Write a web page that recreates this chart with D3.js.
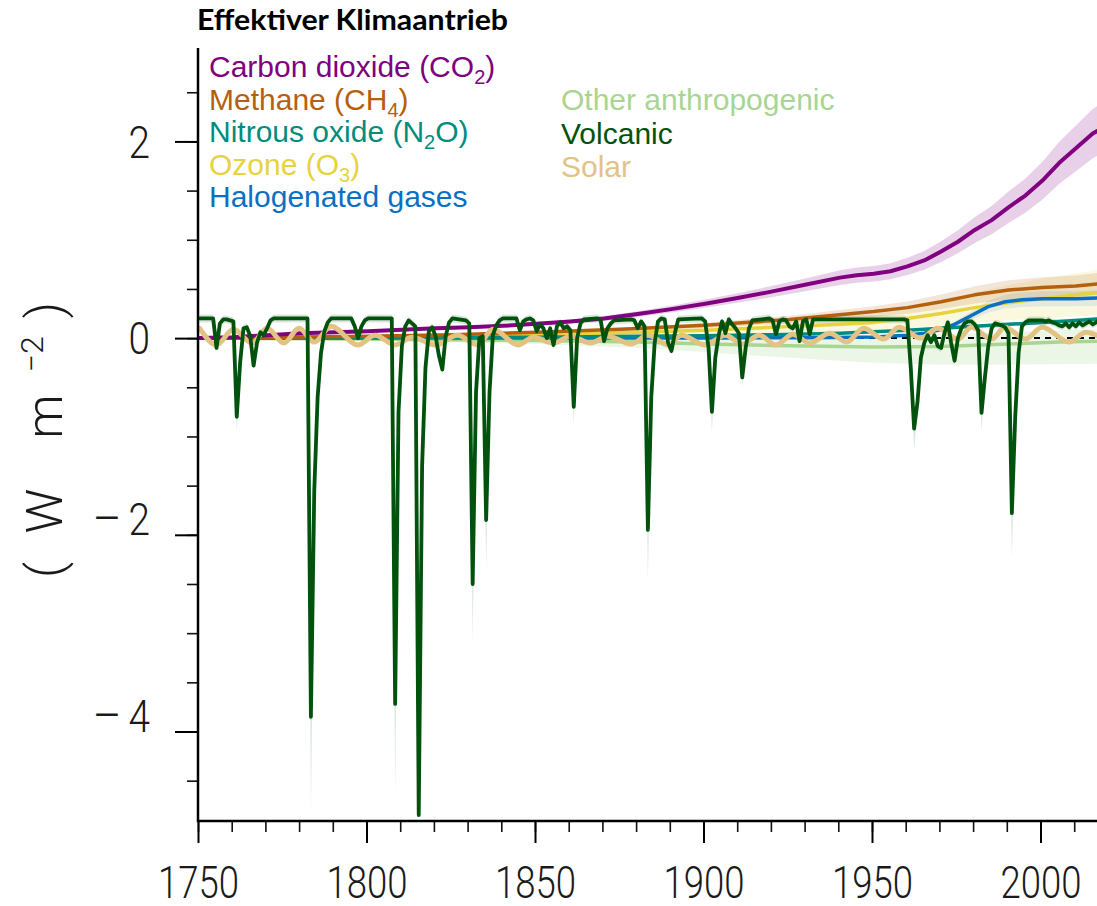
<!DOCTYPE html>
<html>
<head>
<meta charset="utf-8">
<script src="https://cdn.jsdelivr.net/npm/d3@7"></script>
<style>
  html, body { margin: 0; padding: 0; background: #fff; }
  svg { display: block; }
</style>
</head>
<body>
<svg id="chart" width="1097" height="906"></svg>
<script>
// Effective radiative forcing by driver, 1750-2019 (W m-2)
// Rows: [year, central value, lower bound, upper bound]

const co2 = [
  [1750,0,0,0],[1760,0.01,0.009,0.011],[1770,0.03,0.026,0.034],[1780,0.05,0.044,0.056],
  [1790,0.06,0.053,0.067],[1800,0.07,0.062,0.078],[1810,0.085,0.075,0.095],[1820,0.10,0.088,0.112],
  [1830,0.11,0.097,0.123],[1840,0.125,0.11,0.14],[1850,0.145,0.128,0.162],[1860,0.17,0.15,0.19],
  [1870,0.20,0.176,0.224],[1880,0.245,0.216,0.274],[1890,0.295,0.26,0.33],[1900,0.35,0.308,0.392],
  [1910,0.41,0.361,0.459],[1920,0.475,0.418,0.532],[1930,0.545,0.48,0.61],[1940,0.615,0.541,0.689],
  [1945,0.64,0.563,0.717],[1950,0.655,0.576,0.734],[1955,0.68,0.598,0.762],[1960,0.73,0.642,0.818],
  [1965,0.79,0.695,0.885],[1970,0.88,0.774,0.986],[1975,0.98,0.862,1.098],[1980,1.10,0.968,1.232],
  [1985,1.20,1.056,1.344],[1990,1.33,1.17,1.49],[1995,1.45,1.276,1.624],[2000,1.60,1.408,1.792],
  [2005,1.78,1.566,1.994],[2010,1.93,1.698,2.162],[2015,2.08,1.83,2.33],[2019,2.16,1.901,2.419]
];

const methane = [
  [1750,0,0,0],[1775,0.01,0.008,0.012],[1800,0.02,0.016,0.024],[1825,0.035,0.028,0.042],
  [1850,0.06,0.048,0.072],[1875,0.09,0.072,0.108],[1900,0.13,0.104,0.156],[1925,0.19,0.152,0.228],
  [1950,0.27,0.216,0.324],[1960,0.31,0.248,0.372],[1970,0.37,0.296,0.444],[1980,0.44,0.352,0.528],
  [1990,0.49,0.392,0.588],[2000,0.515,0.412,0.618],[2010,0.53,0.424,0.636],[2019,0.56,0.448,0.672]
];

const nitrousOxide = [
  [1750,0,0,0],[1800,0.005,0.004,0.006],[1850,0.01,0.009,0.011],[1880,0.02,0.017,0.023],
  [1900,0.025,0.022,0.028],[1920,0.035,0.03,0.04],[1940,0.05,0.043,0.057],[1950,0.065,0.056,0.074],
  [1960,0.08,0.069,0.091],[1970,0.10,0.086,0.114],[1980,0.12,0.103,0.137],[1990,0.14,0.12,0.16],
  [2000,0.16,0.138,0.182],[2010,0.18,0.155,0.205],[2019,0.20,0.172,0.228]
];

const ozone = [
  [1750,0,0,0],[1800,0.01,0.005,0.015],[1850,0.03,0.015,0.045],[1880,0.06,0.03,0.09],
  [1900,0.08,0.04,0.12],[1920,0.11,0.055,0.165],[1940,0.14,0.07,0.21],[1950,0.16,0.08,0.24],
  [1960,0.20,0.10,0.30],[1970,0.25,0.125,0.375],[1980,0.31,0.155,0.465],[1990,0.36,0.18,0.54],
  [2000,0.40,0.20,0.60],[2010,0.44,0.22,0.66],[2019,0.47,0.235,0.705]
];

const halogenated = [
  [1750,0,0,0],[1900,0.002,0.002,0.002],[1930,0.005,0.004,0.006],[1950,0.012,0.01,0.014],
  [1960,0.03,0.024,0.036],[1965,0.05,0.04,0.06],[1969,0.08,0.065,0.095],[1974,0.14,0.113,0.167],
  [1979,0.23,0.186,0.274],[1984,0.32,0.26,0.38],[1989,0.37,0.30,0.44],[1994,0.39,0.316,0.464],
  [2000,0.40,0.324,0.476],[2010,0.40,0.324,0.476],[2019,0.41,0.332,0.488]
];

const otherAnthropogenic = [
  [1750,0,0,0],[1800,-0.01,-0.03,0.01],[1850,-0.025,-0.06,0.01],[1880,-0.04,-0.10,0.01],
  [1900,-0.06,-0.14,0.01],[1920,-0.075,-0.19,0.015],[1950,-0.09,-0.25,0.02],[1970,-0.085,-0.27,0.04],
  [1990,-0.06,-0.27,0.06],[2005,-0.04,-0.265,0.08],[2019,-0.03,-0.26,0.09]
];

// Volcanic: [year, value]
const volcanic = [
  [1750,0.2],[1754,0.2],[1755,-0.1],[1756,0.15],[1757,0.19],[1758,0.19],[1759,0.18],[1760,0.17],
  [1761,-0.8],[1762,-0.25],[1763,0.1],[1764,0.11],[1765,0.02],[1766,-0.28],[1767,-0.05],[1768,0.06],
  [1769,0.03],[1770,0.1],[1771,0.18],[1772,0.2],[1782,0.2],[1783,-3.85],[1784,-1.55],[1785,-0.6],
  [1786,-0.15],[1787,0.07],[1788,0.16],[1789,0.2],[1795,0.2],[1796,0.12],[1797,0.0],[1798,0.12],
  [1799,0.18],[1800,0.2],[1807,0.2],[1808,-3.72],[1809,-0.75],[1810,-0.08],[1811,0.12],[1812,0.18],
  [1813,0.15],[1814,0.12],[1815,-4.85],[1816,-1.3],[1817,-0.3],[1818,0.07],[1819,0.11],[1820,0.02],
  [1821,-0.18],[1822,-0.32],[1823,0.02],[1824,0.16],[1825,0.2],[1829,0.18],[1830,0.15],[1831,-2.5],
  [1832,-0.55],[1833,0.0],[1834,0.02],[1835,-1.85],[1836,-0.55],[1837,0.03],[1838,0.13],[1839,0.18],
  [1840,0.2],[1844,0.2],[1845,0.08],[1846,0.17],[1847,0.19],[1848,0.2],[1849,0.18],[1850,0.07],
  [1851,0.14],[1852,0.1],[1853,0.0],[1854,0.1],[1855,-0.07],[1856,0.12],[1857,0.16],[1858,0.1],
  [1859,0.12],[1860,0.08],[1861,-0.7],[1862,0.0],[1863,0.15],[1864,0.19],[1868,0.2],[1869,0.18],
  [1870,-0.03],[1871,0.1],[1872,0.15],[1873,0.18],[1878,0.19],[1879,0.18],[1880,0.1],[1881,0.17],
  [1882,0.12],[1883,-1.95],[1884,-0.6],[1885,-0.05],[1886,0.17],[1887,0.2],[1888,0.19],[1889,-0.05],
  [1890,-0.13],[1891,0.05],[1892,0.19],[1899,0.2],[1900,0.17],[1901,-0.1],[1902,-0.75],[1903,-0.2],
  [1904,0.03],[1905,0.17],[1906,0.05],[1907,0.19],[1908,0.14],[1909,0.1],[1910,0.05],[1911,-0.4],
  [1912,-0.1],[1913,0.1],[1914,0.18],[1919,0.2],[1920,0.18],[1921,0.04],[1922,0.17],[1923,0.19],
  [1924,0.18],[1925,0.12],[1926,0.1],[1927,0.17],[1928,-0.03],[1929,0.17],[1930,0.19],[1931,0.04],
  [1932,0.19],[1959,0.19],[1960,0.18],[1961,-0.3],[1962,-0.92],[1963,-0.65],[1964,-0.2],[1965,-0.05],
  [1966,0.03],[1967,-0.04],[1968,0.03],[1969,-0.08],[1970,-0.1],[1971,0.05],[1972,0.16],[1973,-0.05],
  [1974,-0.23],[1975,0.0],[1976,0.1],[1977,0.15],[1978,0.17],[1979,0.17],[1980,0.14],[1981,0.08],
  [1982,-0.76],[1983,-0.4],[1984,-0.08],[1985,0.1],[1986,0.15],[1987,0.14],[1988,0.13],[1989,0.11],
  [1990,0.05],[1991,-1.78],[1992,-0.8],[1993,-0.15],[1994,0.12],[1995,0.16],[1996,0.18],[2000,0.18],
  [2001,0.17],[2002,0.18],[2003,0.16],[2004,0.15],[2005,0.13],[2006,0.12],[2007,0.15],[2008,0.11],
  [2009,0.15],[2010,0.12],[2011,0.16],[2012,0.13],[2013,0.15],[2014,0.17],[2015,0.14],[2016,0.16],
  [2017,0.19],[2018,0.18],[2019,0.17]
];

// Lower edge of the volcanic range in eruption years
const volcanicLowPeaks = [
  [1761,-0.95],[1783,-4.85],[1784,-1.9],[1808,-4.65],[1815,-4.95],[1816,-1.6],[1831,-3.1],
  [1835,-2.35],[1861,-0.88],[1883,-2.45],[1902,-0.95],[1911,-0.5],[1962,-1.15],[1982,-0.95],[1991,-2.25]
];
const volcanicSpread = 0.04;

// Solar: cycle maxima and minima [year, value]
const solar = [
  [1750,0.10],[1755,-0.07],[1760,0.09],[1765.5,-0.05],[1770,0.10],[1775,-0.05],[1779.5,0.10],
  [1784,-0.04],[1789,0.12],[1797,-0.07],[1802,0.03],[1808,-0.07],[1813,0.01],[1820,-0.07],
  [1826.5,0.03],[1832.5,-0.07],[1837,0.09],[1844.5,-0.07],[1849,0.01],[1855,-0.05],[1860,0.02],
  [1866,-0.05],[1871,0.02],[1878,-0.06],[1883,0.03],[1889,-0.07],[1893,0.03],[1900,-0.07],
  [1906,0.03],[1911,-0.06],[1916,0.03],[1921,-0.07],[1926,0.04],[1931,-0.05],[1937,0.05],
  [1942,-0.04],[1947,0.10],[1953,-0.01],[1957.5,0.11],[1964,0.0],[1969,0.10],[1975,-0.01],
  [1979,0.11],[1985,-0.01],[1989,0.11],[1995,-0.01],[2000,0.11],[2008,-0.04],[2013,0.06],[2019,-0.03]
];

const xMajorTicks = [1750, 1800, 1850, 1900, 1950, 2000];
const yMajorTicks = [-4, -2, 0, 2];

const legendLeft = [
  { key: "co2", parts: ["Carbon dioxide (CO", "2", ")"] },
  { key: "methane", parts: ["Methane (CH", "4", ")"] },
  { key: "n2o", parts: ["Nitrous oxide (N", "2", "O)"] },
  { key: "ozone", parts: ["Ozone (O", "3", ")"] },
  { key: "halogen", parts: ["Halogenated gases"] }
];
const legendRight = [
  { key: "other", parts: ["Other anthropogenic"] },
  { key: "volcanic", parts: ["Volcanic"] },
  { key: "solar", parts: ["Solar"] }
];

const colors = {
  co2: "#800080", methane: "#B5600F", n2o: "#008C7E", ozone: "#E6D33E",
  halogen: "#0A70C2", other: "#A8D592", volcanic: "#00520C", solar: "#E2C384"
};

// ---- drawing ----
const W = 1097, H = 906;
const svg = d3.select("#chart");
const x = d3.scaleLinear().domain([1750, 2020]).range([198, 1107.9]);
const y = d3.scaleLinear().domain([-4.91, 2.95]).range([821, 48]);
const mid = yr => x(yr + 0.5);   // annual values sit at mid-year

svg.append("clipPath").attr("id", "plotClip")
  .append("rect").attr("x", 198).attr("y", 40).attr("width", W - 198).attr("height", 781);

const plot = svg.append("g").attr("clip-path", "url(#plotClip)");

const band = d3.area().x(d => mid(d[0])).y0(d => y(d[2])).y1(d => y(d[3]));
const line = d3.line().x(d => mid(d[0])).y(d => y(d[1]));
const smooth = d3.line().x(d => mid(d[0])).y(d => y(d[1])).curve(d3.curveMonotoneX);

const lowMap = new Map(volcanicLowPeaks);
const volcanicBand = volcanic.map(([yr, v]) =>
  [yr, v, lowMap.has(yr) ? lowMap.get(yr) : v - volcanicSpread, v + volcanicSpread]);

// uncertainty ranges
const bands = [
  [otherAnthropogenic, colors.other, 0.22],
  [ozone, colors.ozone, 0.16],
  [halogenated, colors.halogen, 0.10],
  [nitrousOxide, colors.n2o, 0.12],
  [methane, colors.methane, 0.16],
  [co2, colors.co2, 0.18],
  [volcanicBand, colors.volcanic, 0.14]
];
plot.selectAll("path.band").data(bands).join("path")
  .attr("class", "band")
  .attr("d", d => band(d[0]))
  .attr("fill", d => d[1])
  .attr("fill-opacity", d => d[2])
  .attr("stroke", "none");

// zero reference
plot.append("line")
  .attr("x1", x(1750)).attr("x2", x(2020))
  .attr("y1", y(0)).attr("y2", y(0))
  .attr("stroke", "#000").attr("stroke-width", 2).attr("stroke-dasharray", "6,5");

// central estimates
const lines = [
  [otherAnthropogenic, colors.other, 3.5, line],
  [ozone, colors.ozone, 3.5, line],
  [halogenated, colors.halogen, 3.5, line],
  [nitrousOxide, colors.n2o, 3.5, line],
  [methane, colors.methane, 3.5, line],
  [co2, colors.co2, 4, line],
  [solar, colors.solar, 5, smooth],
  [volcanic, colors.volcanic, 3.8, line]
];
plot.selectAll("path.series").data(lines).join("path")
  .attr("class", "series")
  .attr("d", d => d[3](d[0]))
  .attr("fill", "none")
  .attr("stroke", d => d[1])
  .attr("stroke-width", d => d[2])
  .attr("stroke-linejoin", "round")
  .attr("stroke-linecap", "round");

// ---- axes ----
const tickFont = "Roboto, 'Liberation Sans', Arial, sans-serif";
const styleTickText = sel => sel
  .attr("fill", "#1a1a1a")
  .style("font-family", tickFont).style("font-weight", 300).style("font-size", "44px");

const gx = svg.append("g").attr("transform", `translate(0,${y.range()[0]})`);
gx.append("g").call(d3.axisBottom(x).tickValues(d3.range(1750, 2021, 10)).tickSize(11).tickSizeOuter(0).tickFormat(""))
  .call(g => g.select(".domain").remove())
  .call(g => g.selectAll("line").attr("stroke", "#111").attr("stroke-width", 1.6));
gx.append("g").call(d3.axisBottom(x).tickValues(xMajorTicks).tickSize(22).tickSizeOuter(0).tickFormat(d3.format("d")))
  .call(g => g.select(".domain").remove())
  .call(g => g.selectAll("line").attr("stroke", "#000").attr("stroke-width", 2))
  .call(g => g.selectAll("text")
    .attr("y", 77).attr("dy", null)
    .attr("transform", "scale(0.83,1)")
    .call(styleTickText));

const gy = svg.append("g").attr("transform", `translate(${x(1750)},0)`);
gy.append("g").call(d3.axisLeft(y).tickValues(d3.range(-4.5, 2.51, 0.5)).tickSize(11).tickSizeOuter(0).tickFormat(""))
  .call(g => g.select(".domain").remove())
  .call(g => g.selectAll("line").attr("stroke", "#111").attr("stroke-width", 1.6));
gy.append("g").call(d3.axisLeft(y).tickValues(yMajorTicks).tickSize(23).tickSizeOuter(0).tickFormat(d => Math.abs(d)))
  .call(g => g.select(".domain").remove())
  .call(g => g.selectAll("line").attr("stroke", "#000").attr("stroke-width", 2))
  .call(g => g.selectAll("text")
    .attr("x", 0).attr("dy", "0.36em")
    .attr("transform", "translate(-48,0) scale(0.88,1)")
    .call(styleTickText)
    .each(function(d) {
      if (d < 0) {
        // long minus sign set slightly apart from the digit
        const t = d3.select(this);
        const digits = t.text();
        t.text(null);
        t.append("tspan").style("font-size", "50px").attr("dy", "0.02em").text("\u2013");
        t.append("tspan").attr("dx", 8).attr("dy", "-0.02em").text(digits);
      }
    }));

// axis lines
svg.append("line").attr("x1", x(1750)).attr("x2", W).attr("y1", y.range()[0]).attr("y2", y.range()[0])
  .attr("stroke", "#000").attr("stroke-width", 2.5);
svg.append("line").attr("x1", x(1750)).attr("x2", x(1750)).attr("y1", y.range()[1]).attr("y2", y.range()[0] + 1.2)
  .attr("stroke", "#000").attr("stroke-width", 2.5);

// unit label
const unit = svg.append("text")
  .attr("transform", "translate(62,440) rotate(-90)")
  .attr("text-anchor", "middle")
  .attr("fill", "#1a1a1a")
  .style("font-family", tickFont).style("font-weight", 300).style("font-size", "50px");
unit.append("tspan").text("(");
unit.append("tspan").attr("dx", 28).text("W");
unit.append("tspan").attr("dx", 50).text("m");
unit.append("tspan").attr("dx", 22).attr("dy", -19).style("font-size", "32px").text("\u2212" + "2");
unit.append("tspan").attr("dx", 18).attr("dy", 19).text(")");

// title
svg.append("text")
  .attr("x", 197).attr("y", 30)
  .attr("fill", "#000")
  .attr("textLength", 311).attr("lengthAdjust", "spacingAndGlyphs")
  .style("font-family", "Lato, 'Open Sans', sans-serif")
  .style("font-weight", 700).style("font-size", "29px")
  .text("Effektiver Klimaantrieb");

// legend
function legendColumn(items, x0, y0, step) {
  items.forEach((it, i) => {
    const t = svg.append("text")
      .attr("x", x0).attr("y", y0 + i * step)
      .attr("fill", colors[it.key])
      .style("font-family", "'Liberation Sans', Arial, sans-serif")
      .style("font-size", "30px");
    t.append("tspan").text(it.parts[0]);
    if (it.parts.length > 1) {
      t.append("tspan").attr("dy", 7).style("font-size", "20px").text(it.parts[1]);
      t.append("tspan").attr("dy", -7).text(it.parts[2]);
    }
  });
}
legendColumn(legendLeft, 209, 77, 32.5);
legendColumn(legendRight, 561, 110, 33.5);
</script>
</body>
</html>
